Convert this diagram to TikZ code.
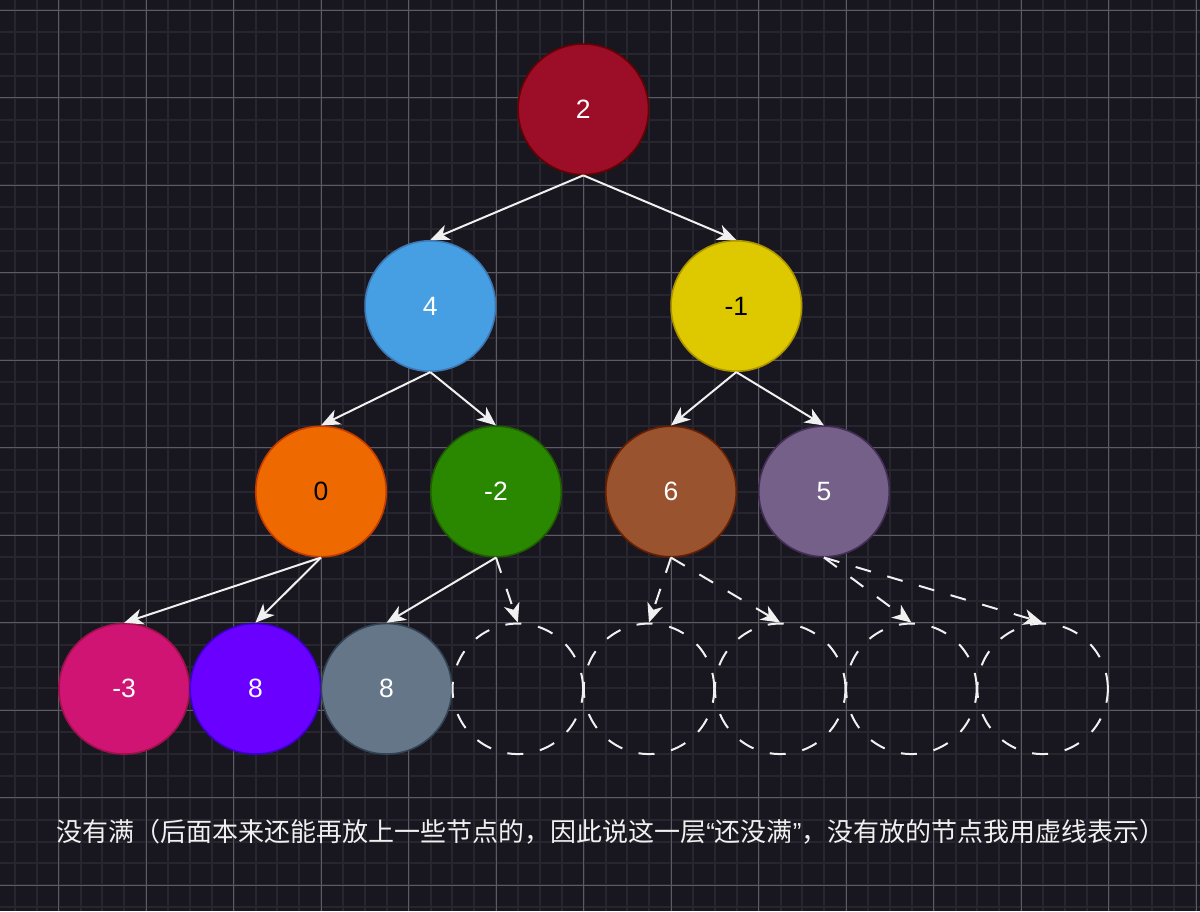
\documentclass[tikz,border=0pt]{standalone}
\usepackage{fontspec}
\setmainfont{Liberation Sans}
\newfontfamily\cjk{Noto Sans CJK SC}
\usetikzlibrary{arrows.meta}
\definecolor{bg}{HTML}{18161E}
\definecolor{gridminor}{HTML}{27252D}
\definecolor{gridmajor}{HTML}{5C5A62}
\definecolor{edgecol}{HTML}{F0F0F0}
\definecolor{rF}{HTML}{9C0E28}\definecolor{rD}{HTML}{6B0000}
\definecolor{aF}{HTML}{479FE3}\definecolor{aD}{HTML}{3D78B5}
\definecolor{bF}{HTML}{DEC800}\definecolor{bD}{HTML}{AE9500}
\definecolor{cF}{HTML}{EE6A00}\definecolor{cD}{HTML}{C43A00}
\definecolor{dF}{HTML}{2A8800}\definecolor{dD}{HTML}{1E5E00}
\definecolor{eF}{HTML}{99532E}\definecolor{eD}{HTML}{6A2000}
\definecolor{fF}{HTML}{75608A}\definecolor{fD}{HTML}{442D57}
\definecolor{gF}{HTML}{CF1474}\definecolor{gD}{HTML}{A0104A}
\definecolor{hF}{HTML}{6A00FF}\definecolor{hD}{HTML}{3D00CC}
\definecolor{iF}{HTML}{647687}\definecolor{iD}{HTML}{314354}
\tikzset{
  tnode/.style={circle, minimum size=130.5pt, inner sep=0pt, line width=1.6pt,
    font=\fontsize{26.5}{30}\selectfont, text=white},
  empty/.style={circle, minimum size=130.5pt, inner sep=0pt, draw=edgecol,
    line width=2pt, dash pattern=on 16pt off 17pt},
  edge/.style={draw=edgecol, line width=2pt,
    -{Stealth[length=19pt, width=16pt, inset=5.5pt, fill=edgecol]}},
  dedge/.style={edge, dash pattern=on 16pt off 17pt},
}
\begin{document}
\begin{tikzpicture}[x=1pt, y=-1pt]
\useasboundingbox (0,0) rectangle (1200,911);
\fill[bg] (0,0) rectangle (1200,911);
% minor grid
\foreach \i in {0,...,55} {
  \draw[gridminor, line width=2pt] ({14.95+21.875*\i},0) -- ({14.95+21.875*\i},911);
}
\foreach \i in {0,...,42} {
  \draw[gridminor, line width=2pt] (0,{10.3+21.875*\i}) -- (1200,{10.3+21.875*\i});
}
% major grid
\foreach \i in {0,...,13} {
  \draw[gridmajor, line width=1pt] ({58.7+87.5*\i},0) -- ({58.7+87.5*\i},911);
}
\foreach \i in {0,...,10} {
  \draw[gridmajor, line width=1pt] (0,{10.3+87.5*\i}) -- (1200,{10.3+87.5*\i});
}

% nodes
\node[tnode, fill=rF, draw=rD] (r) at (583.3,109.3) {2};
\node[tnode, fill=aF, draw=aD] (a) at (430.3,306) {4};
\node[tnode, fill=bF, draw=bD, text=black] (b) at (736.3,306) {-1};
\node[tnode, fill=cF, draw=cD, text=black] (c) at (321,491.5) {0};
\node[tnode, fill=dF, draw=dD] (d) at (496,491.5) {-2};
\node[tnode, fill=eF, draw=eD] (e) at (671,491.5) {6};
\node[tnode, fill=fF, draw=fD] (f) at (824,491.5) {5};
\node[tnode, fill=gF, draw=gD] (g1) at (124.2,688.8) {-3};
\node[tnode, fill=hF, draw=hD] (g2) at (255.4,688.8) {8};
\node[tnode, fill=iF, draw=iD] (g3) at (386.6,688.8) {8};
\node[empty] (h1) at (517.8,688.8) {};
\node[empty] (h2) at (649,688.8) {};
\node[empty] (h3) at (780.2,688.8) {};
\node[empty] (h4) at (911.4,688.8) {};
\node[empty] (h5) at (1042.6,688.8) {};

% edges
\draw[edge] (r.south) -- (a.north);
\draw[edge] (r.south) -- (b.north);
\draw[edge] (a.south) -- (c.north);
\draw[edge] (a.south) -- (d.north);
\draw[edge] (b.south) -- (e.north);
\draw[edge] (b.south) -- (f.north);
\draw[edge] (c.south) -- (g1.north);
\draw[edge] (c.south) -- (g2.north);
\draw[edge] (d.south) -- (g3.north);
\draw[dedge] (d.south) -- (h1.north);
\draw[dedge] (e.south) -- (h2.north);
\draw[dedge] (e.south) -- (h3.north);
\draw[dedge] (f.south) -- (h4.north);
\draw[dedge] (f.south) -- (h5.north);

% caption
\node[text=edgecol, inner sep=0pt, font=\cjk\fontsize{26}{30}\selectfont] (cap) at (611,832)
  {没有满（后面本来还能再放上一些节点的，因此说这一层{\rmfamily “}还没满{\rmfamily ”}，没有放的节点我用虚线表示）};
\end{tikzpicture}
\end{document}
